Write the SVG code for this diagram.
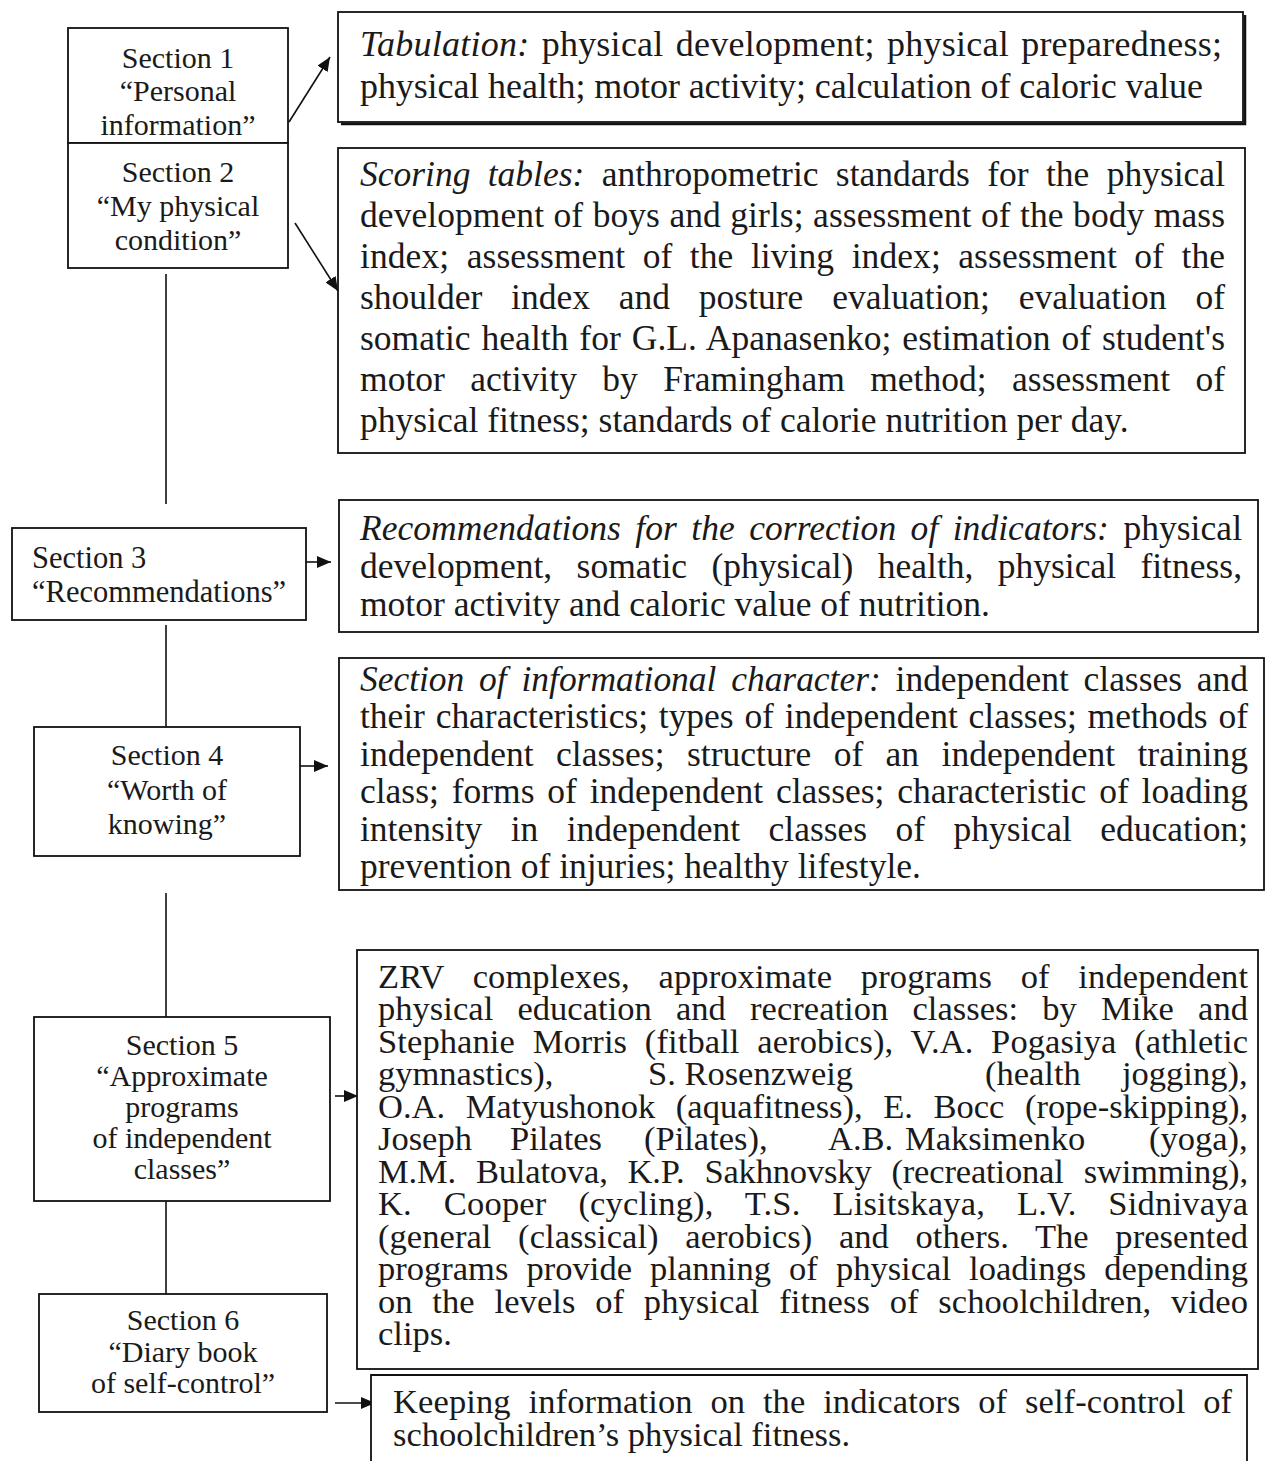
<svg xmlns="http://www.w3.org/2000/svg" width="1267" height="1461" viewBox="0 0 1267 1461">
<defs>
<marker id="ah" markerUnits="userSpaceOnUse" markerWidth="14" markerHeight="12" viewBox="0 0 14 12" refX="14" refY="6" orient="auto">
<path d="M0,0 L14,6 L0,12 Z" fill="#111"/>
</marker>
</defs>
<style>
.box{fill:#fff;stroke:#111;stroke-width:1.8}
.sec{font-family:"Liberation Serif","Times New Roman",serif;font-size:30px;fill:#1a1a1a;text-anchor:middle}
.secl{font-family:"Liberation Serif","Times New Roman",serif;font-size:30.5px;fill:#1a1a1a}
.txt{font-family:"Liberation Serif","Times New Roman",serif;font-size:35.5px;fill:#1a1a1a}
.big{font-size:36px}
.sm{font-size:34.5px}
.it{font-style:italic}
.con{fill:none;stroke:#111;stroke-width:1.6}
.arr{fill:none;stroke:#111;stroke-width:1.6;marker-end:url(#ah)}
</style>
<rect width="1267" height="1461" fill="#fff"/>

<g id="connectors">
<line class="con" x1="166" y1="274" x2="166" y2="504"/>
<line class="con" x1="166" y1="625" x2="166" y2="727"/>
<line class="con" x1="166" y1="893" x2="166" y2="1017"/>
<line class="con" x1="166" y1="1201" x2="166" y2="1294"/>
<line class="arr" x1="289" y1="122" x2="330" y2="57"/>
<line class="arr" x1="295" y1="223" x2="338" y2="291"/>
<line class="arr" x1="306" y1="562" x2="331" y2="562"/>
<line class="arr" x1="300" y1="766" x2="328" y2="766"/>
<line class="arr" x1="335" y1="1096" x2="358" y2="1096"/>
<line class="arr" x1="335" y1="1403" x2="375" y2="1403"/>
</g>

<g id="section1">
<rect class="box" x="68" y="28" width="220" height="115"/>
<text class="sec" x="178" y="68">Section 1</text>
<text class="sec" x="178" y="101">“Personal</text>
<text class="sec" x="178" y="135">information”</text>
</g>
<g id="section2">
<rect class="box" x="68" y="143" width="220" height="125"/>
<text class="sec" x="178" y="182">Section 2</text>
<text class="sec" x="178" y="216">“My physical</text>
<text class="sec" x="178" y="250">condition”</text>
</g>
<g id="section3">
<rect class="box" x="12" y="528" width="294" height="92"/>
<text class="secl" x="32" y="568">Section 3</text>
<text class="secl" x="32" y="602">“Recommendations”</text>
</g>
<g id="section4">
<rect class="box" x="34" y="727" width="266" height="129"/>
<text class="sec" x="167" y="765">Section 4</text>
<text class="sec" x="167" y="800">“Worth of</text>
<text class="sec" x="167" y="834">knowing”</text>
</g>
<g id="section5">
<rect class="box" x="34" y="1017" width="296" height="184"/>
<text class="sec" x="182" y="1055">Section 5</text>
<text class="sec" x="182" y="1086">“Approximate</text>
<text class="sec" x="182" y="1117">programs</text>
<text class="sec" x="182" y="1148">of independent</text>
<text class="sec" x="182" y="1179">classes”</text>
</g>
<g id="section6">
<rect class="box" x="39" y="1294" width="288" height="118"/>
<text class="sec" x="183" y="1330">Section 6</text>
<text class="sec" x="183" y="1362">“Diary book</text>
<text class="sec" x="183" y="1393">of self-control”</text>
</g>

<g id="tabulation">
<rect class="box" x="338" y="12" width="905" height="110"/>
<path d="M1245,15 V124 H341" fill="none" stroke="#111" stroke-width="2.5"/>
<text class="txt big" x="360" y="56" textLength="862" lengthAdjust="spacing" word-spacing="3"><tspan class="it">Tabulation:</tspan> physical development; physical preparedness;</text>
<text class="txt big" x="360" y="98" textLength="843" lengthAdjust="spacing">physical health; motor activity; calculation of caloric value</text>
</g>

<g id="scoring">
<rect class="box" x="338" y="148" width="907" height="305"/>
<text class="txt" x="360" y="186" textLength="865" lengthAdjust="spacing" word-spacing="8.5"><tspan class="it">Scoring tables:</tspan> anthropometric standards for the physical</text>
<text class="txt" x="360" y="227" textLength="865" lengthAdjust="spacing" word-spacing="0.5">development of boys and girls; assessment of the body mass</text>
<text class="txt" x="360" y="268" textLength="865" lengthAdjust="spacing" word-spacing="8.5">index; assessment of the living index; assessment of the</text>
<text class="txt" x="360" y="309" textLength="865" lengthAdjust="spacing" word-spacing="20">shoulder index and posture evaluation; evaluation of</text>
<text class="txt" x="360" y="350" textLength="865" lengthAdjust="spacing" word-spacing="2">somatic health for G.L. Apanasenko; estimation of student's</text>
<text class="txt" x="360" y="391" textLength="865" lengthAdjust="spacing" word-spacing="16.5">motor activity by Framingham method; assessment of</text>
<text class="txt" x="360" y="432">physical fitness; standards of calorie nutrition per day.</text>
</g>

<g id="recommendations">
<rect class="box" x="339" y="500" width="919" height="132"/>
<text class="txt" x="360" y="540" textLength="882" lengthAdjust="spacing" word-spacing="5.5"><tspan class="it">Recommendations for the correction of indicators:</tspan> physical</text>
<text class="txt" x="360" y="578" textLength="882" lengthAdjust="spacing" word-spacing="15.5">development, somatic (physical) health, physical fitness,</text>
<text class="txt" x="360" y="616">motor activity and caloric value of nutrition.</text>
</g>

<g id="informational">
<rect class="box" x="339" y="658" width="925" height="232"/>
<text class="txt" x="360" y="691" textLength="888" lengthAdjust="spacing" word-spacing="6"><tspan class="it">Section of informational character:</tspan> independent classes and</text>
<text class="txt" x="360" y="728" textLength="888" lengthAdjust="spacing" word-spacing="2">their characteristics; types of independent classes; methods of</text>
<text class="txt" x="360" y="766" textLength="888" lengthAdjust="spacing" word-spacing="13.5">independent classes; structure of an independent training</text>
<text class="txt" x="360" y="803" textLength="888" lengthAdjust="spacing" word-spacing="4">class; forms of independent classes; characteristic of loading</text>
<text class="txt" x="360" y="841" textLength="888" lengthAdjust="spacing" word-spacing="19.5">intensity in independent classes of physical education;</text>
<text class="txt" x="360" y="878">prevention of injuries; healthy lifestyle.</text>
</g>

<g id="programs">
<rect class="box" x="357" y="950" width="901" height="419"/>
<text class="txt sm" x="378" y="988" textLength="870" lengthAdjust="spacing" word-spacing="20">ZRV complexes, approximate programs of independent</text>
<text class="txt sm" x="378" y="1020" textLength="870" lengthAdjust="spacing" word-spacing="15.5">physical education and recreation classes: by Mike and</text>
<text class="txt sm" x="378" y="1053" textLength="870" lengthAdjust="spacing" word-spacing="9">Stephanie Morris (fitball aerobics), V.A. Pogasiya (athletic</text>
<text class="txt sm" y="1085"><tspan x="378">gymnastics),</tspan><tspan x="648">S. Rosenzweig</tspan><tspan x="985">(health</tspan><tspan x="1122">jogging),</tspan></text>
<text class="txt sm" x="378" y="1118" textLength="870" lengthAdjust="spacing" word-spacing="12">O.A. Matyushonok (aquafitness), E. Bocc (rope-skipping),</text>
<text class="txt sm" y="1150"><tspan x="378">Joseph</tspan><tspan x="510">Pilates</tspan><tspan x="644">(Pilates),</tspan><tspan x="828">A.B.</tspan><tspan x="905">Maksimenko</tspan><tspan x="1149">(yoga),</tspan></text>
<text class="txt sm" x="378" y="1183" textLength="870" lengthAdjust="spacing" word-spacing="11.5">M.M. Bulatova, K.P. Sakhnovsky (recreational swimming),</text>
<text class="txt sm" x="378" y="1215" textLength="870" lengthAdjust="spacing" word-spacing="23">K. Cooper (cycling), T.S. Lisitskaya, L.V. Sidnivaya</text>
<text class="txt sm" x="378" y="1248" textLength="870" lengthAdjust="spacing" word-spacing="18">(general (classical) aerobics) and others. The presented</text>
<text class="txt sm" x="378" y="1280" textLength="870" lengthAdjust="spacing" word-spacing="9.5">programs provide planning of physical loadings depending</text>
<text class="txt sm" x="378" y="1313" textLength="870" lengthAdjust="spacing" word-spacing="11">on the levels of physical fitness of schoolchildren, video</text>
<text class="txt sm" x="378" y="1345">clips.</text>
</g>

<g id="diary">
<path class="box" d="M371,1461 V1375 H1247 V1461"/>
<text class="txt sm" x="393" y="1413" textLength="839" lengthAdjust="spacing" word-spacing="9">Keeping information on the indicators of self-control of</text>
<text class="txt sm" x="393" y="1446">schoolchildren’s physical fitness.</text>
</g>
</svg>
